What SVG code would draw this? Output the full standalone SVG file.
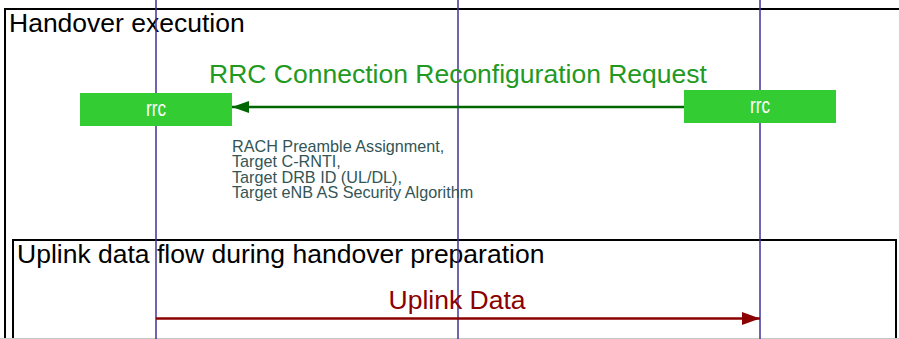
<svg xmlns="http://www.w3.org/2000/svg" width="899" height="339" viewBox="0 0 899 339">
<style>
.frame{fill:none;stroke:#000;stroke-width:2}
.ftitle{font-family:"Liberation Sans",Arial,sans-serif;font-size:26.5px;fill:#000}
.life{stroke:#3f3399;stroke-width:1.5}
.rrcbox{fill:#33cc33}
.rrctext{font-family:"Liberation Sans",Arial,sans-serif;font-size:22px;fill:#fff;text-anchor:middle}
.msg{font-family:"Liberation Sans",Arial,sans-serif;font-size:26.5px;text-anchor:middle}
.note{font-family:"Liberation Sans",Arial,sans-serif;font-size:16.2px;fill:#335555}
</style>
<defs>
<marker id="ag" markerWidth="17" markerHeight="12" refX="17" refY="6" orient="auto" markerUnits="userSpaceOnUse"><path d="M0,0 L17,6 L0,12 Z" fill="#006600"/></marker>
<marker id="ar" markerWidth="18" markerHeight="13" refX="18" refY="6.5" orient="auto" markerUnits="userSpaceOnUse"><path d="M0,0 L18,6.5 L0,13 Z" fill="#8b0000"/></marker>
</defs>
<rect width="899" height="339" fill="#fff"/>
<g id="frame-handover-execution">
<path class="frame" d="M5,339 V9 H900"/>
<text class="ftitle" x="9" y="32">Handover execution</text>
</g>
<g id="frame-uplink">
<path class="frame" d="M13,339 V240 H896 V339"/>
<text class="ftitle" x="17" y="263">Uplink data flow during handover preparation</text>
</g>
<line x1="0" y1="338.5" x2="899" y2="338.5" stroke="#c8c8c8" stroke-width="1"/>
<g id="lifelines">
<line class="life" x1="156" y1="0" x2="156" y2="339"/>
<line class="life" x1="458" y1="0" x2="458" y2="339"/>
<line class="life" x1="760" y1="0" x2="760" y2="339"/>
</g>
<g id="connectors">
<line x1="684" y1="107" x2="232" y2="107" stroke="#006600" stroke-width="2.5" marker-end="url(#ag)"/>
<text class="msg" x="458" y="83" fill="#229922">RRC Connection Reconfiguration Request</text>
<text class="note" x="232" y="152">RACH Preamble Assignment,</text>
<text class="note" x="232" y="167.3">Target C-RNTI,</text>
<text class="note" x="232" y="182.6">Target DRB ID (UL/DL),</text>
<text class="note" x="232" y="198">Target eNB AS Security Algorithm</text>
<line x1="156" y1="318.5" x2="760" y2="318.5" stroke="#8b0000" stroke-width="2.5" marker-end="url(#ar)"/>
<text class="msg" x="457" y="309" fill="#8b0000">Uplink Data</text>
</g>
<g id="rrc-left">
<rect class="rrcbox" x="80" y="93" width="152" height="33"/>
<text class="rrctext" x="156" y="115.5" textLength="20" lengthAdjust="spacingAndGlyphs">rrc</text>
</g>
<g id="rrc-right">
<rect class="rrcbox" x="684" y="90" width="152" height="33"/>
<text class="rrctext" x="760" y="112.5" textLength="20" lengthAdjust="spacingAndGlyphs">rrc</text>
</g>
</svg>
